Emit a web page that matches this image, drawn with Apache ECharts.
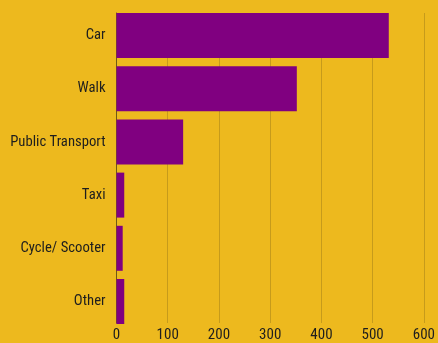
<!DOCTYPE html>
<html>
<head>
<meta charset="utf-8">
<script src="https://cdn.jsdelivr.net/npm/echarts@6/dist/echarts.min.js"></script>
<style>
  html, body { margin: 0; padding: 0; background: #EDB91E; }
  #chart { width: 438px; height: 343px; }
</style>
</head>
<body>
<div id="chart"></div>
<script>
// Travel modes, top to bottom
const categories = ['Car', 'Walk', 'Public Transport', 'Taxi', 'Cycle/ Scooter', 'Other'];
const counts = [527, 349, 129, 15, 12, 15];
const xTicks = [0, 100, 200, 300, 400, 500, 600];

const FONT = '"Roboto Condensed", Roboto, sans-serif';
const TEXT = '#1e1e1e';

// Plot frame: gridlines and the value axis span the full bar stack
const plotTop = 13, plotBottom = 19, plotLeft = 116.5, plotRight = 11.5;
// Bars sit on category ticks (no boundary gap), so the bar grid is inset by half a bar
const barThickness = 45;
const half = barThickness / 2;

const chart = echarts.init(document.getElementById('chart'), null, { renderer: 'canvas' });
chart.setOption({
  backgroundColor: '#EDB91E',
  animation: false,
  grid: [
    // bars + category labels
    { left: plotLeft, right: plotRight, top: plotTop + half, bottom: plotBottom + half, containLabel: false },
    // gridlines, value labels, left axis line
    { left: plotLeft, right: plotRight, top: plotTop, bottom: plotBottom, containLabel: false }
  ],
  xAxis: [
    {
      gridIndex: 0,
      type: 'value',
      min: xTicks[0],
      max: xTicks[xTicks.length - 1],
      interval: 100,
      axisLine: { show: false },
      axisTick: { show: false },
      splitLine: { show: false },
      axisLabel: { show: false }
    },
    {
      gridIndex: 1,
      type: 'value',
      min: xTicks[0],
      max: xTicks[xTicks.length - 1],
      interval: 100,
      axisLine: { show: false },
      axisTick: { show: false },
      splitLine: { show: true, lineStyle: { color: '#C69B1B', width: 1 } },
      axisLabel: { color: TEXT, fontFamily: FONT, fontSize: 15, margin: 5 }
    }
  ],
  yAxis: [
    {
      gridIndex: 0,
      type: 'category',
      data: categories,
      inverse: true,
      boundaryGap: false,
      axisLine: { show: false },
      axisTick: { show: false },
      splitLine: { show: false },
      axisLabel: { color: TEXT, fontFamily: FONT, fontSize: 14.7, margin: 11 }
    },
    {
      gridIndex: 1,
      type: 'value',
      min: 0,
      max: 1,
      axisLine: { show: true, lineStyle: { color: '#6e5a12', width: 1 } },
      axisTick: { show: false },
      splitLine: { show: false },
      axisLabel: { show: false }
    }
  ],
  series: [{
    type: 'bar',
    xAxisIndex: 0,
    yAxisIndex: 0,
    data: counts,
    barWidth: barThickness,
    itemStyle: { color: '#800080' },
    z: 3
  }]
});
</script>
</body>
</html>
